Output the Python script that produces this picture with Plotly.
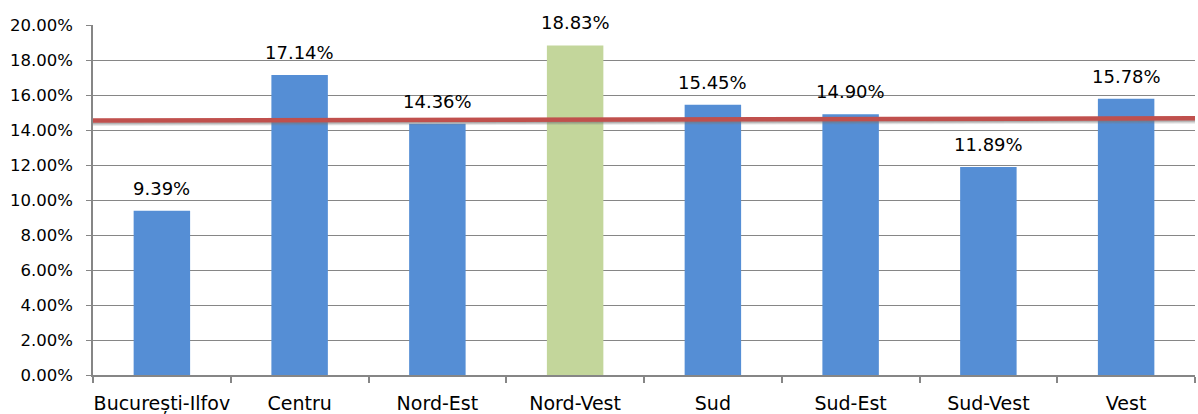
import plotly.graph_objects as go

regions = ["București-Ilfov", "Centru", "Nord-Est", "Nord-Vest", "Sud", "Sud-Est", "Sud-Vest", "Vest"]
rates = [9.39, 17.14, 14.36, 18.83, 15.45, 14.90, 11.89, 15.78]
bar_colors = ["#558ED5", "#558ED5", "#558ED5", "#C3D69B", "#558ED5", "#558ED5", "#558ED5", "#558ED5"]

# reference line across the plot (start / end values, %)
ref_x = [-0.5, 7.5]
ref_y = [14.54, 14.67]

y_ticks = [0, 2, 4, 6, 8, 10, 12, 14, 16, 18, 20]
y_tick_text = [f"{v:.2f}%" for v in y_ticks]

FONT = "DejaVu Sans"

fig = go.Figure()

fig.add_trace(go.Bar(
    x=list(range(len(regions))),
    y=rates,
    marker=dict(color=bar_colors, line=dict(width=0)),
    width=0.41,
    showlegend=False,
))

# value labels above each bar
for i, v in enumerate(rates):
    fig.add_annotation(
        x=i, y=v, xref="x", yref="y",
        text=f"{v:.2f}%", showarrow=False,
        yanchor="bottom", yshift=10,
        font=dict(family=FONT, size=18, color="#000000"),
    )

# soft shadow under the reference line
for off, op in [(0.22, 0.18), (0.16, 0.28), (0.10, 0.35)]:
    fig.add_trace(go.Scatter(
        x=ref_x, y=[v - off for v in ref_y], mode="lines",
        line=dict(color=f"rgba(120,120,120,{op})", width=3),
        hoverinfo="skip", showlegend=False,
    ))

fig.add_trace(go.Scatter(
    x=ref_x, y=ref_y, mode="lines",
    line=dict(color="#C0504D", width=4.5),
    showlegend=False,
))

fig.update_layout(
    width=1198, height=414,
    margin=dict(l=93, r=3, t=25, b=39, autoexpand=False),
    paper_bgcolor="white", plot_bgcolor="white",
    bargap=0.59,
    font=dict(family=FONT, size=16, color="#000000"),
)

fig.update_xaxes(
    range=[-0.5, 7.5],
    tickvals=list(range(len(regions))),
    ticktext=regions,
    tickfont=dict(family=FONT, size=19),
    ticklabelstandoff=10,
    automargin=False,
    showgrid=False,
    showline=True, linecolor="#868686", linewidth=1.5,
    ticks="", zeroline=False,
)
# tick marks between categories
fig.update_xaxes(
    minor=dict(tickvals=[i - 0.5 for i in range(len(regions) + 1)],
               ticks="outside", ticklen=6, tickcolor="#868686", tickwidth=1.5,
               showgrid=False),
)

fig.update_yaxes(
    range=[0, 20],
    tickvals=y_ticks, ticktext=y_tick_text,
    tickfont=dict(family=FONT, size=16.5),
    ticklabelstandoff=10,
    automargin=False,
    showgrid=True, gridcolor="#868686", gridwidth=1,
    showline=True, linecolor="#868686", linewidth=1.5,
    ticks="outside", ticklen=5, tickcolor="#868686",
    zeroline=False,
)

fig.write_html("out.html")
